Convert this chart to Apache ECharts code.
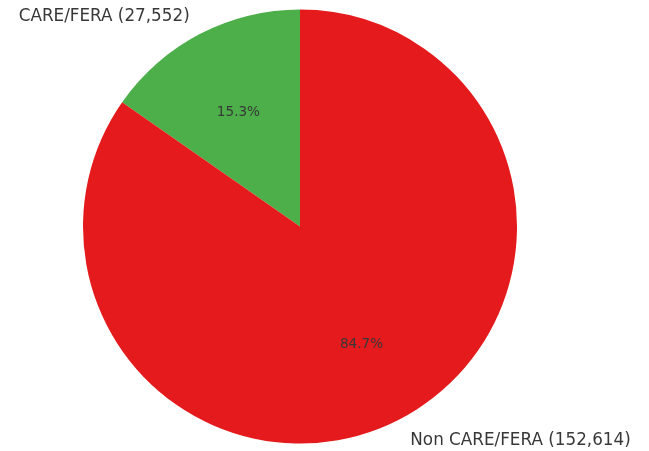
<!DOCTYPE html>
<html>
<head>
<meta charset="utf-8">
<script src="https://cdn.jsdelivr.net/npm/echarts@6/dist/echarts.min.js"></script>
<style>
  html, body { margin: 0; padding: 0; background: #fff; }
  #chart { width: 649px; height: 451px; }
</style>
</head>
<body>
<div id="chart"></div>
<script>
// Customer counts by enrollment group
const categories = ['CARE/FERA', 'Non CARE/FERA'];
const counts = [27552, 152614];
const colors = ['#4daf4a', '#e41a1c'];

const R = 217;            // pie radius in px
const center = [300, 226.5];

const total = counts.reduce((a, b) => a + b, 0);
const data = categories.map((name, i) => ({
  name,
  value: counts[i],
  itemStyle: { color: colors[i] }
}));

// nudges for the percentage text so it sits at 0.6 R along each wedge's bisector
const pctOffsets = [[0, 4], [0, 0]];

const fmtNum = v => v.toLocaleString('en-US');

const chart = echarts.init(document.getElementById('chart'));
chart.setOption({
  animation: false,
  textStyle: { fontFamily: 'DejaVu Sans' },
  series: [
    {
      // the visible pie with category labels just outside the rim
      type: 'pie',
      center,
      radius: [0, R],
      startAngle: 90,
      clockwise: false,
      avoidLabelOverlap: false,
      minShowLabelAngle: 0,
      data,
      label: {
        show: true,
        position: 'outside',
        distanceToLabelLine: 0,
        offset: [0, 2],
        fontFamily: 'DejaVu Sans',
        fontSize: 16.8,
        color: '#383838',
        formatter: p => `${p.name} (${fmtNum(p.value)})`
      },
      labelLine: { show: false, length: R * 0.1, length2: 0 },
      emphasis: { disabled: true }
    },
    {
      // transparent overlay that carries the percentage labels
      type: 'pie',
      center,
      radius: [0, R * 1.2],
      startAngle: 90,
      clockwise: false,
      silent: true,
      data: categories.map((name, i) => ({
        name,
        value: counts[i],
        label: { offset: pctOffsets[i] }
      })),
      itemStyle: { color: 'rgba(0,0,0,0)' },
      label: {
        show: true,
        position: 'inside',
        fontFamily: 'DejaVu Sans',
        fontSize: 13.6,
        color: '#383838',
        formatter: p => (p.value / total * 100).toFixed(1) + '%'
      },
      labelLine: { show: false },
      emphasis: { disabled: true }
    }
  ]
});
</script>
</body>
</html>
